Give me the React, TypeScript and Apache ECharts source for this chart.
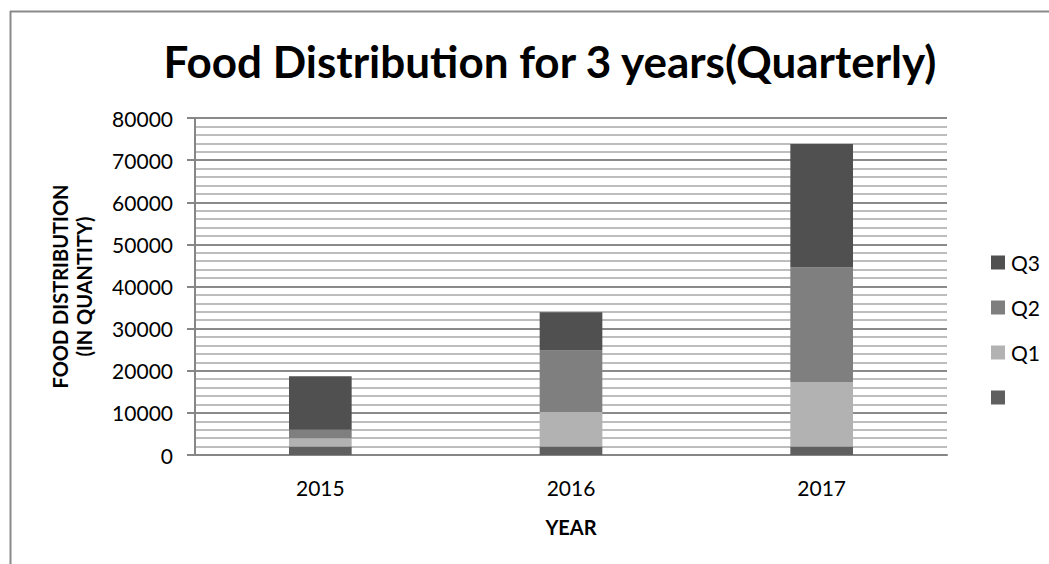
import React, { useEffect, useRef } from "react";
import * as echarts from "echarts";

const categories = ["2015", "2016", "2017"];
const baseValues = [2000, 2000, 2000];
const q1Values = [2000, 8200, 15300];
const q2Values = [2000, 14600, 27200];
const q3Values = [12700, 9100, 29300];
const legendOrder = ["Q3", "Q2", "Q1", " "];

const FONT = "Lato, 'Open Sans', sans-serif";

export default function App() {
  const ref = useRef<HTMLDivElement>(null);
  useEffect(() => {
    if (!ref.current) return;
    const chart = echarts.init(ref.current, null, { renderer: "svg" });
    const mk = (name: string, data: number[], color: string) => ({
      name,
      type: "bar",
      stack: "total",
      data,
      barWidth: "25%",
      itemStyle: { color },
      emphasis: { disabled: true },
    });
    chart.setOption({
      animation: false,
      backgroundColor: "#ffffff",
      textStyle: { fontFamily: FONT },
      title: {
        text: "Food Distribution for 3 years(Quarterly)",
        left: 545,
        textAlign: "center",
        top: 34,
        textStyle: { fontFamily: FONT, fontSize: 44, fontWeight: "bold", color: "#000" },
      },
      legend: {
        data: legendOrder,
        orient: "vertical",
        left: 986,
        top: 247,
        itemWidth: 14,
        itemHeight: 14,
        itemGap: 24,
        icon: "rect",
        selectedMode: false,
        textStyle: { fontFamily: FONT, fontSize: 21, color: "#000", padding: [0, 0, 0, 1] },
      },
      grid: { left: 195, right: 102, top: 118, bottom: 109 },
      xAxis: {
        type: "category",
        data: categories,
        name: "YEAR",
        nameLocation: "middle",
        nameGap: 62,
        nameTextStyle: { fontFamily: FONT, fontSize: 20, fontWeight: "bold", color: "#000" },
        axisLine: { lineStyle: { color: "#868686", width: 2 } },
        axisTick: { show: false },
        axisLabel: { fontFamily: FONT, fontSize: 21, color: "#000", margin: 22 },
      },
      yAxis: {
        type: "value",
        min: 0,
        max: 80000,
        interval: 10000,
        name: "FOOD DISTRIBUTION\n(IN QUANTITY)",
        nameLocation: "middle",
        nameGap: 99,
        nameTextStyle: { fontFamily: FONT, fontSize: 20, fontWeight: "bold", color: "#000", lineHeight: 24 },
        axisLine: { show: true, lineStyle: { color: "#868686", width: 2 } },
        axisTick: { show: true, length: 8, lineStyle: { color: "#868686", width: 2 } },
        axisLabel: { fontFamily: FONT, fontSize: 21, color: "#000", margin: 22, formatter: (v: number) => String(v) },
        splitLine: { show: true, lineStyle: { color: "#8a8a8a", width: 2 } },
        minorTick: { show: false, splitNumber: 5 },
        minorSplitLine: { show: true, lineStyle: { color: "#bdbdbd", width: 2 } },
      },
      series: [
        mk(" ", baseValues, "#5f5f5f"),
        mk("Q1", q1Values, "#b2b2b2"),
        mk("Q2", q2Values, "#7f7f7f"),
        mk("Q3", q3Values, "#505050"),
      ],
      graphic: [
        { type: "line", shape: { x1: 10, y1: 11.5, x2: 1049, y2: 11.5 }, style: { stroke: "#8a8a8a", lineWidth: 2 } },
        { type: "line", shape: { x1: 10.5, y1: 11, x2: 10.5, y2: 564 }, style: { stroke: "#8a8a8a", lineWidth: 2 } },
      ],
    });
    return () => chart.dispose();
  }, []);
  return (
    <div
      ref={ref}
      style={{ position: "absolute", left: 0, top: 0, width: 1049, height: 564 }}
    />
  );
}
